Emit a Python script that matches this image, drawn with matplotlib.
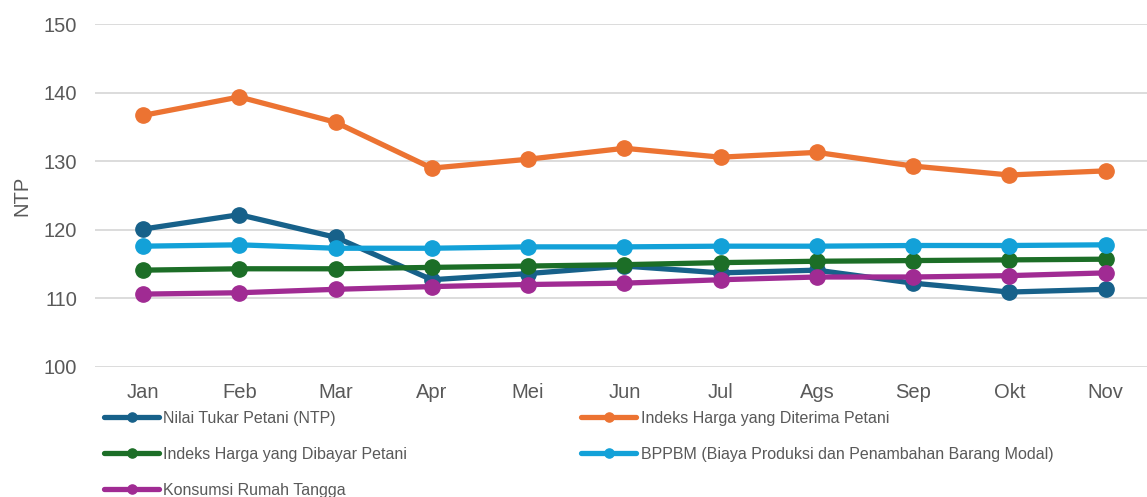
import matplotlib
matplotlib.use('Agg')
import matplotlib.pyplot as plt

plt.rcParams['font.family'] = ['Liberation Sans', 'DejaVu Sans']

bulan = ['Jan', 'Feb', 'Mar', 'Apr', 'Mei', 'Jun', 'Jul', 'Ags', 'Sep', 'Okt', 'Nov']

ntp = [120.1, 122.2, 118.9, 112.7, 113.6, 114.7, 113.7, 114.1, 112.2, 110.9, 111.3]
diterima = [136.7, 139.4, 135.7, 129.0, 130.3, 131.9, 130.6, 131.3, 129.3, 128.0, 128.6]
dibayar = [114.1, 114.3, 114.3, 114.5, 114.7, 114.9, 115.2, 115.4, 115.5, 115.6, 115.7]
bppbm = [117.6, 117.8, 117.3, 117.3, 117.5, 117.5, 117.6, 117.6, 117.7, 117.7, 117.8]
konsumsi = [110.6, 110.8, 111.3, 111.7, 112.0, 112.2, 112.7, 113.1, 113.1, 113.3, 113.7]

series = [
    ('Nilai Tukar Petani (NTP)', ntp, '#17618a'),
    ('Indeks Harga yang Dibayar Petani', dibayar, '#1c6e27'),
    ('Konsumsi Rumah Tangga', konsumsi, '#a02b93'),
    ('Indeks Harga yang Diterima Petani', diterima, '#ec7332'),
    ('BPPBM (Biaya Produksi dan Penambahan Barang Modal)', bppbm, '#13a1d8'),
]
# drawing order (so orange/blue end up above the others like in the source)
draw_order = [0, 3, 1, 4, 2]

fig = plt.figure(figsize=(11.47, 4.97), dpi=100)
ax = fig.add_axes([0.0828, 0.2622, 0.9172, 0.6888])

x = range(len(bulan))
lines = {}
for i in draw_order:
    name, vals, col = series[i]
    ln, = ax.plot(x, vals, color=col, lw=3.8, marker='o', markersize=11,
                  solid_capstyle='round', label=name, zorder=3 + i)
    lines[i] = ln

ax.set_ylim(100, 150)
ax.set_yticks([100, 110, 120, 130, 140, 150])
ax.set_xlim(-0.5, 10.43)
ax.set_xticks(list(x))
ax.set_xticklabels(bulan)
ax.yaxis.grid(True, color='#d9d9d9', lw=1.3)
ax.set_axisbelow(True)
for s in ax.spines.values():
    s.set_visible(False)
ax.tick_params(length=0, labelsize=14.5, colors='#595959')
ax.tick_params(axis='y', pad=13)
ax.tick_params(axis='x', pad=12)
ax.set_ylabel('NTP', fontsize=14.5, color='#595959')
ax.yaxis.set_label_coords(-0.060, 0.5)

leg = fig.legend([lines[i] for i in range(5)], [s[0] for s in series],
                 ncol=2, loc='upper left', bbox_to_anchor=(0.091, 0.173),
                 frameon=False, fontsize=11.5, handlelength=3.4,
                 handletextpad=0.3, columnspacing=10.9, labelspacing=1.3,
                 markerscale=0.6, borderaxespad=0, borderpad=0)
for t in leg.get_texts():
    t.set_color('#595959')

fig.savefig('out.png', dpi=100)
